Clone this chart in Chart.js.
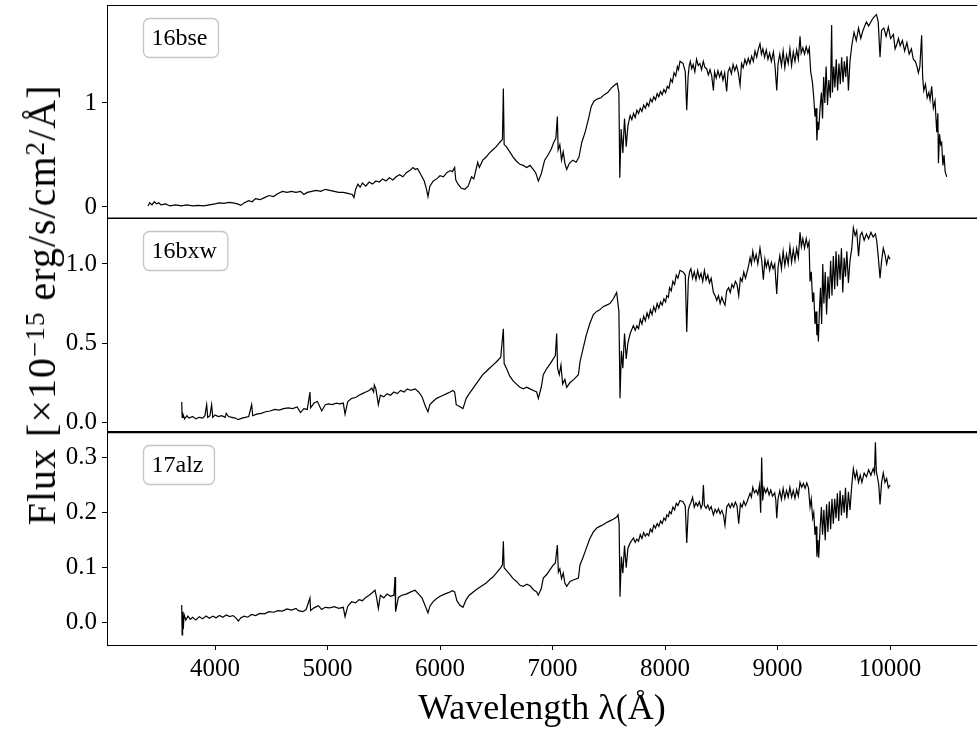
<!DOCTYPE html>
<html>
<head>
<meta charset="utf-8">
<script src="https://cdn.jsdelivr.net/npm/chart.js@4"></script>
<style>
  html, body { margin: 0; padding: 0; background: #fff; overflow: hidden; }
  #wrap { position: relative; width: 977px; height: 732px; }
  #wrap canvas { position: absolute; left: 0; top: 0; }
  #ylab {
    position: absolute; left: 42px; top: 305px;
    transform: translate(-50%, -50%) rotate(-90deg);
    font: 40px "Liberation Serif", serif; line-height: 40px; letter-spacing: 1px;
    white-space: nowrap; color: #000;
  }
  #ylab sup { font-size: 0.68em; vertical-align: 0.42em; line-height: 0; }
</style>
</head>
<body>
<div id="wrap">
  <canvas id="p1" width="977" height="732"></canvas>
  <canvas id="p2" width="977" height="732"></canvas>
  <canvas id="p3" width="977" height="732"></canvas>
  <div id="ylab">Flux [×10<sup>−15</sup> erg/s/cm<sup>2</sup>/Å]</div>
</div>
<script>
// shared x axis
const xTicks = [4000, 5000, 6000, 7000, 8000, 9000, 10000]
const xTickLabels = ['4000', '5000', '6000', '7000', '8000', '9000', '10000']

// 16bse
const waveBse = [3404,3420,3440,3460,3480,3500,3520,3560,3600,3650,3700,3750,3800,3850,3900,3950,4000,4040,4080,4120,4160,4200,4230,4260,4300,4330,4360,4400,4440,4480,4520,4560,4600,4640,4680,4720,4760,4790,4820,4860,4900,4940,4980,5020,5060,5100,5140,5180,5220,5235,5250,5270,5290,5310,5340,5370,5400,5430,5460,5490,5520,5550,5580,5610,5640,5670,5700,5730,5760,5780,5800,5830,5860,5880,5893,5910,5940,5970,6000,6030,6060,6090,6110,6130,6140,6160,6190,6220,6250,6280,6300,6320,6335,6350,6380,6410,6440,6470,6500,6530,6555,6563,6570,6590,6620,6650,6680,6710,6740,6770,6800,6830,6850,6874,6900,6930,6960,6990,7010,7030,7043,7050,7065,7080,7095,7110,7126,7150,7180,7210,7235,7260,7290,7320,7345,7370,7400,7430,7460,7490,7520,7550,7575,7590,7598,7610,7625,7640,7655,7670,7690,7705,7720,7735,7750,7765,7780,7795,7810,7825,7840,7855,7870,7885,7900,7915,7930,7945,7960,7975,7990,8005,8020,8035,8050,8065,8080,8095,8110,8120,8133,8160,8180,8193,8205,8215,8225,8237,8250,8265,8280,8295,8310,8325,8340,8355,8370,8385,8400,8415,8430,8440,8455,8470,8485,8500,8515,8530,8548,8560,8575,8590,8605,8620,8635,8650,8667,8680,8695,8710,8725,8740,8755,8770,8785,8800,8815,8830,8844,8857,8870,8885,8900,8915,8930,8945,8963,8978,8993,9005,9020,9035,9050,9065,9080,9095,9110,9125,9140,9155,9170,9185,9200,9210,9225,9240,9255,9270,9282,9295,9310,9322,9333,9342,9350,9358,9366,9378,9390,9400,9410,9420,9432,9444,9456,9470,9481,9488,9500,9510,9522,9534,9546,9558,9570,9582,9594,9606,9618,9630,9644,9660,9680,9700,9720,9740,9760,9790,9810,9840,9860,9880,9895,9911,9925,9945,9965,9985,10005,10030,10045,10059,10075,10090,10110,10130,10150,10170,10190,10207,10225,10240,10252,10265,10281,10290,10300,10315,10330,10345,10356,10370,10385,10400,10415,10425,10430,10440,10450,10459,10470,10480,10490,10504]
const fluxBse = [0.01,0.04,0.02,0.05,0.03,0.04,0.02,0.03,0.01,0.02,0.01,0.02,0.01,0.015,0.01,0.02,0.03,0.04,0.035,0.045,0.04,0.03,0.015,0.04,0.06,0.05,0.08,0.07,0.09,0.11,0.10,0.13,0.15,0.14,0.15,0.14,0.15,0.12,0.14,0.15,0.16,0.15,0.17,0.16,0.15,0.14,0.14,0.13,0.12,0.09,0.17,0.22,0.19,0.23,0.20,0.24,0.22,0.25,0.24,0.27,0.25,0.28,0.26,0.29,0.31,0.29,0.33,0.35,0.38,0.36,0.37,0.31,0.25,0.17,0.10,0.20,0.25,0.27,0.30,0.29,0.33,0.35,0.34,0.38,0.26,0.22,0.18,0.17,0.20,0.29,0.27,0.36,0.43,0.38,0.45,0.48,0.52,0.55,0.58,0.62,0.65,1.14,0.60,0.58,0.53,0.48,0.44,0.41,0.40,0.38,0.40,0.36,0.33,0.25,0.32,0.45,0.50,0.56,0.62,0.66,0.87,0.55,0.60,0.45,0.53,0.42,0.36,0.42,0.45,0.43,0.48,0.62,0.72,0.85,0.97,1.02,1.04,1.05,1.08,1.10,1.14,1.17,1.19,1.10,0.28,0.75,0.52,0.85,0.58,0.78,0.88,0.84,0.90,0.86,0.93,0.90,0.95,0.92,0.98,0.95,1.00,0.97,1.04,1.01,1.06,1.03,1.09,1.06,1.11,1.08,1.13,1.10,1.16,1.14,1.23,1.20,1.29,1.26,1.35,1.32,1.40,1.38,1.30,0.93,1.25,1.36,1.40,1.33,1.37,1.30,1.42,1.36,1.38,1.32,1.40,1.34,1.33,1.27,1.32,1.26,1.12,1.30,1.24,1.31,1.25,1.30,1.22,1.29,1.11,1.30,1.34,1.28,1.37,1.31,1.36,1.30,1.17,1.38,1.34,1.42,1.37,1.43,1.38,1.45,1.40,1.50,1.44,1.52,1.57,1.47,1.52,1.44,1.51,1.42,1.48,1.40,1.49,1.35,1.12,1.38,1.47,1.36,1.50,1.34,1.46,1.38,1.52,1.36,1.49,1.40,1.51,1.42,1.64,1.48,1.53,1.47,1.54,1.48,1.53,1.30,1.20,1.05,0.87,0.95,0.64,0.82,0.74,0.95,1.10,0.85,1.25,1.00,1.35,0.98,1.22,1.05,1.75,1.10,1.35,1.15,1.42,1.12,1.38,1.18,1.44,1.20,1.40,1.25,1.45,1.12,1.40,1.55,1.68,1.60,1.72,1.62,1.70,1.78,1.74,1.80,1.83,1.85,1.78,1.44,1.70,1.72,1.64,1.73,1.62,1.66,1.52,1.56,1.62,1.55,1.60,1.50,1.58,1.47,1.52,1.42,1.40,1.35,1.29,1.35,1.65,1.25,1.12,1.18,1.05,1.10,1.03,1.16,0.95,1.02,0.72,0.90,0.42,0.70,0.60,0.62,0.40,0.50,0.34,0.29]

// 16bxw
const waveBxw = [3704,3708,3715,3730,3750,3770,3800,3830,3860,3890,3910,3926,3935,3955,3970,3980,4000,4030,4060,4090,4100,4120,4150,4180,4207,4240,4270,4300,4326,4335,4370,4410,4450,4490,4530,4570,4610,4650,4690,4730,4760,4790,4820,4844,4850,4880,4910,4930,4948,4980,5010,5040,5080,5110,5140,5156,5180,5215,5250,5280,5310,5340,5370,5393,5410,5416,5430,5452,5470,5500,5530,5560,5590,5620,5650,5680,5710,5740,5778,5810,5840,5870,5893,5910,5937,5970,6000,6030,6060,6090,6115,6130,6144,6170,6204,6233,6260,6290,6320,6350,6380,6410,6440,6470,6500,6540,6563,6570,6590,6620,6650,6680,6710,6741,6770,6800,6830,6859,6874,6900,6918,6950,6980,7007,7025,7037,7045,7060,7075,7090,7110,7126,7156,7190,7230,7244,7270,7300,7330,7363,7393,7420,7450,7480,7510,7541,7570,7590,7600,7612,7625,7640,7655,7670,7690,7719,7735,7750,7765,7780,7795,7810,7825,7840,7855,7870,7885,7900,7915,7930,7945,7960,7975,7990,8005,8015,8030,8040,8055,8070,8085,8100,8115,8133,8160,8180,8193,8207,8218,8230,8245,8260,8275,8290,8305,8320,8335,8350,8365,8380,8395,8410,8430,8445,8460,8475,8490,8505,8520,8533,8548,8565,8580,8595,8610,8625,8640,8655,8670,8685,8700,8715,8726,8740,8756,8768,8780,8795,8810,8825,8844,8860,8874,8888,8900,8915,8930,8945,8960,8975,8993,9005,9020,9035,9050,9065,9080,9095,9110,9125,9140,9155,9170,9185,9200,9212,9225,9240,9255,9268,9280,9289,9300,9312,9322,9333,9342,9350,9358,9363,9372,9382,9392,9402,9412,9424,9436,9448,9460,9472,9484,9496,9508,9520,9532,9544,9556,9568,9580,9592,9604,9616,9630,9644,9660,9674,9690,9704,9720,9735,9750,9770,9790,9810,9830,9850,9870,9881,9895,9911,9925,9940,9955,9970,9985,10000]
const fluxBxw = [0.127,0.03,0.05,0.02,0.04,0.025,0.035,0.02,0.03,0.025,0.04,0.11,0.03,0.04,0.11,0.03,0.045,0.035,0.04,0.03,0.055,0.035,0.03,0.025,0.015,0.025,0.03,0.035,0.11,0.04,0.05,0.055,0.065,0.07,0.08,0.075,0.085,0.09,0.085,0.095,0.06,0.085,0.08,0.19,0.09,0.12,0.13,0.10,0.07,0.11,0.115,0.11,0.12,0.115,0.12,0.05,0.13,0.15,0.155,0.17,0.18,0.19,0.20,0.215,0.19,0.234,0.21,0.11,0.17,0.16,0.18,0.17,0.19,0.18,0.20,0.19,0.21,0.20,0.21,0.19,0.16,0.10,0.065,0.11,0.13,0.15,0.16,0.17,0.18,0.19,0.20,0.19,0.11,0.10,0.085,0.15,0.18,0.21,0.24,0.27,0.30,0.32,0.34,0.36,0.38,0.41,0.59,0.37,0.34,0.29,0.26,0.24,0.22,0.21,0.22,0.21,0.20,0.19,0.15,0.22,0.30,0.34,0.37,0.40,0.42,0.56,0.34,0.30,0.36,0.24,0.27,0.22,0.25,0.27,0.30,0.38,0.46,0.55,0.62,0.68,0.70,0.71,0.73,0.74,0.75,0.78,0.82,0.70,0.15,0.45,0.34,0.56,0.40,0.50,0.56,0.61,0.58,0.61,0.59,0.65,0.62,0.67,0.64,0.69,0.66,0.71,0.68,0.73,0.70,0.75,0.72,0.76,0.74,0.78,0.76,0.80,0.79,0.85,0.83,0.89,0.87,0.93,0.91,0.96,0.95,0.93,0.57,0.90,0.95,0.97,0.91,0.95,0.90,0.96,0.91,0.94,0.89,0.96,0.90,0.93,0.88,0.91,0.82,0.80,0.77,0.80,0.75,0.79,0.76,0.74,0.83,0.85,0.82,0.87,0.85,0.89,0.87,0.80,0.91,0.89,0.95,0.91,0.94,0.98,1.04,1.00,1.08,1.02,1.06,1.00,1.10,1.02,0.90,1.03,0.98,1.02,0.96,1.01,0.97,1.00,0.81,0.98,1.05,0.97,1.08,0.99,1.06,1.00,1.11,1.01,1.09,1.02,1.10,1.04,1.20,1.11,1.16,1.10,1.16,1.11,1.14,0.89,0.95,0.76,0.82,0.62,0.70,0.55,0.62,0.51,0.70,0.85,0.62,1.00,0.75,0.95,0.68,0.92,0.78,1.02,0.80,1.05,0.84,1.08,0.86,1.06,0.90,1.10,0.82,1.04,0.92,1.08,0.88,1.02,1.10,1.23,1.18,1.21,1.05,1.18,1.20,1.15,1.19,1.16,1.20,1.17,1.19,1.15,1.05,0.91,1.02,1.10,1.06,1.00,1.05,1.03]

// 17alz
const waveAlz = [3704,3708,3712,3718,3725,3740,3760,3780,3800,3830,3860,3890,3920,3950,3980,4010,4040,4070,4100,4130,4160,4190,4207,4230,4260,4290,4326,4360,4400,4440,4480,4520,4560,4600,4640,4680,4720,4741,4780,4810,4844,4850,4880,4919,4948,4980,5020,5060,5100,5140,5156,5180,5215,5250,5280,5310,5340,5370,5400,5422,5435,5452,5470,5500,5530,5560,5590,5600,5605,5630,5660,5700,5740,5778,5810,5840,5870,5893,5910,5937,5970,6000,6040,6080,6110,6130,6150,6175,6204,6233,6260,6290,6320,6350,6380,6410,6440,6470,6500,6540,6555,6563,6570,6590,6620,6650,6680,6711,6740,6770,6800,6830,6859,6874,6900,6918,6950,6980,7007,7025,7043,7052,7065,7080,7095,7110,7126,7156,7190,7230,7244,7270,7300,7330,7363,7393,7420,7450,7480,7510,7540,7570,7582,7592,7600,7612,7625,7640,7655,7670,7690,7719,7735,7750,7765,7780,7795,7810,7825,7840,7855,7870,7885,7900,7915,7930,7945,7960,7975,7990,8005,8015,8030,8040,8055,8070,8085,8100,8115,8133,8160,8180,8193,8207,8218,8230,8245,8260,8275,8290,8305,8320,8332,8341,8350,8365,8380,8395,8410,8430,8445,8460,8475,8490,8505,8520,8533,8548,8565,8580,8595,8610,8625,8640,8655,8670,8685,8700,8715,8726,8740,8756,8768,8780,8795,8810,8825,8840,8850,8859,8868,8880,8895,8910,8925,8940,8955,8975,8985,8993,9005,9020,9035,9050,9065,9080,9095,9110,9125,9140,9155,9170,9185,9200,9215,9230,9245,9260,9275,9289,9300,9312,9322,9333,9342,9350,9358,9366,9378,9390,9400,9412,9424,9436,9448,9460,9472,9484,9496,9508,9520,9532,9544,9556,9568,9580,9592,9604,9616,9630,9644,9660,9674,9690,9704,9720,9735,9750,9770,9790,9810,9830,9850,9862,9870,9878,9890,9900,9911,9925,9940,9955,9970,9985,10000]
const fluxAlz = [0.032,-0.022,0.02,-0.012,0.015,0.005,0.012,0.006,0.010,0.005,0.011,0.007,0.012,0.008,0.012,0.009,0.013,0.010,0.014,0.011,0.013,0.008,0.003,0.009,0.012,0.010,0.015,0.013,0.017,0.016,0.020,0.019,0.022,0.021,0.025,0.023,0.026,0.022,0.020,0.024,0.045,0.022,0.027,0.031,0.024,0.028,0.027,0.029,0.026,0.028,0.011,0.030,0.038,0.036,0.042,0.040,0.046,0.050,0.055,0.059,0.047,0.026,0.050,0.045,0.052,0.048,0.050,0.083,0.020,0.046,0.050,0.052,0.056,0.059,0.052,0.045,0.030,0.018,0.030,0.038,0.044,0.048,0.052,0.055,0.058,0.056,0.040,0.032,0.028,0.042,0.050,0.055,0.060,0.064,0.068,0.072,0.078,0.083,0.090,0.100,0.105,0.148,0.100,0.095,0.088,0.080,0.075,0.068,0.066,0.070,0.067,0.060,0.056,0.050,0.062,0.081,0.088,0.097,0.105,0.108,0.141,0.092,0.098,0.080,0.090,0.072,0.066,0.075,0.078,0.081,0.105,0.118,0.135,0.152,0.165,0.172,0.175,0.178,0.182,0.185,0.188,0.192,0.196,0.180,0.047,0.120,0.090,0.140,0.100,0.135,0.145,0.154,0.146,0.152,0.148,0.160,0.153,0.164,0.157,0.162,0.158,0.170,0.165,0.177,0.172,0.180,0.175,0.185,0.180,0.190,0.186,0.196,0.193,0.202,0.198,0.210,0.205,0.217,0.213,0.222,0.220,0.212,0.145,0.205,0.213,0.218,0.228,0.210,0.218,0.212,0.220,0.208,0.215,0.250,0.213,0.208,0.214,0.205,0.211,0.196,0.206,0.200,0.207,0.198,0.204,0.195,0.177,0.210,0.216,0.209,0.217,0.210,0.219,0.212,0.180,0.216,0.210,0.221,0.213,0.218,0.226,0.235,0.228,0.246,0.236,0.241,0.233,0.250,0.200,0.300,0.222,0.245,0.236,0.244,0.232,0.241,0.230,0.236,0.222,0.190,0.226,0.240,0.224,0.244,0.226,0.240,0.228,0.246,0.228,0.240,0.226,0.242,0.230,0.255,0.246,0.253,0.244,0.254,0.245,0.210,0.225,0.190,0.200,0.160,0.175,0.120,0.150,0.118,0.170,0.210,0.160,0.205,0.150,0.215,0.165,0.220,0.170,0.225,0.180,0.225,0.190,0.235,0.185,0.240,0.195,0.232,0.200,0.245,0.190,0.238,0.205,0.250,0.280,0.262,0.275,0.255,0.268,0.255,0.272,0.265,0.278,0.268,0.280,0.272,0.328,0.275,0.262,0.250,0.215,0.255,0.272,0.255,0.262,0.245,0.250]

// y ticks per panel
const yTicksBse = [0, 1]
const yLabelsBse = ['0', '1']
const yTicksBxw = [0, 0.5, 1.0]
const yLabelsBxw = ['0.0', '0.5', '1.0']
const yTicksAlz = [0, 0.1, 0.2, 0.3]
const yLabelsAlz = ['0.0', '0.1', '0.2', '0.3']

Chart.defaults.font.family = '"Liberation Serif", serif'
Chart.defaults.color = '#000'

// name box in the upper left of each panel
const nameBox = {
  id: 'nameBox',
  afterDraw(chart, args, opts) {
    const { ctx, chartArea } = chart
    ctx.save()
    ctx.font = '24px "Liberation Serif", serif'
    const w = ctx.measureText(opts.text).width + 19
    const x = Math.round(chartArea.left + 36) + 0.5
    const y = Math.round(chartArea.top + 13) + 0.5
    ctx.beginPath()
    ctx.roundRect(x, y, w, 39, 6)
    ctx.fillStyle = 'rgba(255,255,255,0.8)'
    ctx.fill()
    ctx.strokeStyle = '#c4c4c4'
    ctx.lineWidth = 1.3
    ctx.stroke()
    ctx.fillStyle = '#000'
    ctx.textBaseline = 'alphabetic'
    ctx.fillText(opts.text, x + 8, y + 26)
    ctx.restore()
  }
}

// top and bottom spines
const frame = {
  id: 'frame',
  afterDraw(chart, args, opts) {
    const { ctx, chartArea: a } = chart
    ctx.save()
    ctx.strokeStyle = '#000'
    ctx.lineWidth = opts.top
    ctx.beginPath()
    ctx.moveTo(a.left, a.top + 0.5)
    ctx.lineTo(a.right, a.top + 0.5)
    ctx.stroke()
    if (opts.bottom) {
      ctx.lineWidth = opts.bottom
      ctx.beginPath()
      ctx.moveTo(a.left, a.bottom)
      ctx.lineTo(a.right, a.bottom)
      ctx.stroke()
    }
    ctx.restore()
  }
}

function makePanel(id, waves, flux, name, yMin, yMax, yTicks, yLabels, padTop, padBottom, showX, lines) {
  const points = waves.map((w, i) => ({ x: w, y: flux[i] }))
  return new Chart(document.getElementById(id), {
    type: 'line',
    data: {
      datasets: [{
        data: points,
        borderColor: '#000',
        borderWidth: 1.2,
        pointRadius: 0,
        tension: 0,
        fill: false
      }]
    },
    options: {
      responsive: false,
      animation: false,
      events: [],
      layout: { padding: { top: padTop, bottom: padBottom, left: 0, right: 0 } },
      plugins: {
        legend: { display: false },
        tooltip: { enabled: false },
        nameBox: { text: name },
        frame: lines
      },
      scales: {
        x: {
          type: 'linear',
          min: 3040,
          max: 10773,
          display: showX,
          afterBuildTicks: s => { s.ticks = xTicks.map(v => ({ value: v })) },
          afterFit: s => {
            if (showX) s.height = 87
            s.paddingLeft = 0
            s.paddingRight = 0
          },
          grid: { drawOnChartArea: false, drawTicks: true, tickLength: 5, tickColor: '#000' },
          border: { display: true, color: '#000', width: 1 },
          ticks: {
            padding: 4,
            font: { size: 25 },
            maxRotation: 0,
            callback: (v, i) => xTickLabels[i]
          },
          title: {
            display: true,
            text: 'Wavelength λ(Å)',
            font: { size: 36, lineHeight: 1.2 },
            padding: { top: 0, bottom: 1 }
          }
        },
        y: {
          min: yMin,
          max: yMax,
          afterBuildTicks: s => { s.ticks = yTicks.map(v => ({ value: v })) },
          afterFit: s => { s.width = 107; s.paddingTop = 0; s.paddingBottom = 0 },
          grid: { drawOnChartArea: false, drawTicks: true, tickLength: 5, tickColor: '#000' },
          border: { display: true, color: '#000', width: 1 },
          ticks: {
            padding: 5,
            font: { size: 25 },
            callback: (v, i) => yLabels[i]
          }
        }
      }
    },
    plugins: [nameBox, frame]
  })
}

makePanel('p1', waveBse, fluxBse, '16bse', -0.106, 1.942, yTicksBse, yLabelsBse, 5, 514, false, { top: 1.2, bottom: 1.2 })
makePanel('p2', waveBxw, fluxBxw, '16bxw', -0.063, 1.291, yTicksBxw, yLabelsBxw, 218, 300, false, { top: 1.2, bottom: 2.2 })
makePanel('p3', waveAlz, fluxAlz, '17alz', -0.0405, 0.3465, yTicksAlz, yLabelsAlz, 432, 0, true, { top: 1.6, bottom: 0 })
</script>
</body>
</html>
